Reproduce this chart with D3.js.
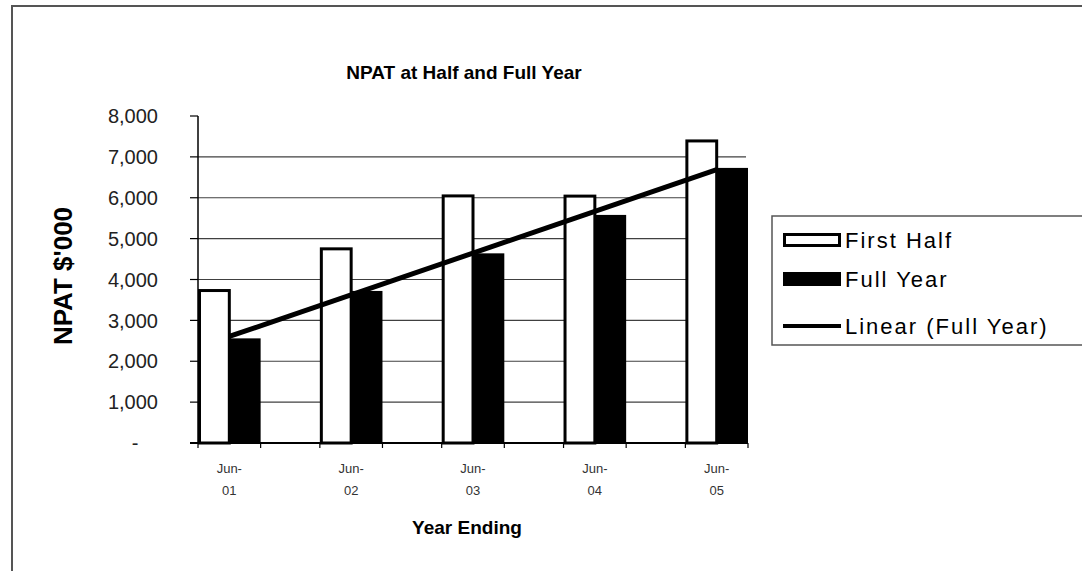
<!DOCTYPE html>
<html>
<head>
<meta charset="utf-8">
<script src="https://cdn.jsdelivr.net/npm/d3@7"></script>
<style>
  html, body { margin: 0; padding: 0; background: #fff; }
  svg { display: block; font-family: "Liberation Sans", Arial, sans-serif; }
</style>
</head>
<body>
<div id="app"></div>
<script>
// Chart values
const categories = ["Jun-01", "Jun-02", "Jun-03", "Jun-04", "Jun-05"];
const firstHalf = [3730, 4750, 6045, 6040, 7390];
const fullYear = [2560, 3720, 4640, 5580, 6730];
const seriesNames = ["First Half", "Full Year", "Linear (Full Year)"];
const yTicks = [0, 1000, 2000, 3000, 4000, 5000, 6000, 7000, 8000];

const width = 1082, height = 571;
const plot = { left: 198, right: 748, top: 116, bottom: 443 };

const svg = d3.select("#app").append("svg")
  .attr("width", width)
  .attr("height", height);

// chart area border (runs off the right and bottom)
svg.append("path")
  .attr("d", `M12,${height + 5}V6H${width + 5}`)
  .attr("fill", "none")
  .attr("stroke", "#555")
  .attr("stroke-width", 2);

const x0 = d3.scaleBand()
  .domain(categories)
  .range([plot.left, plot.right])
  .paddingInner(0.486)
  .paddingOuter(0);

const x1 = d3.scaleBand()
  .domain(["First Half", "Full Year"])
  .range([0, x0.bandwidth()]);

const y = d3.scaleLinear().domain([0, 8000]).range([plot.bottom, plot.top]);

const fmt = d3.format(",");

// gridlines (none at the top value)
svg.append("g")
  .selectAll("line")
  .data(yTicks.filter(t => t > 0 && t < 8000))
  .join("line")
    .attr("x1", plot.left).attr("x2", plot.right - 2)
    .attr("y1", d => y(d)).attr("y2", d => y(d))
    .attr("stroke", "#404040")
    .attr("stroke-width", 1.2);

// y axis
const yAxis = svg.append("g");
yAxis.append("line")
  .attr("x1", plot.left).attr("x2", plot.left)
  .attr("y1", y(8000)).attr("y2", y(0))
  .attr("stroke", "#000").attr("stroke-width", 1.5);
yAxis.selectAll("line.tick")
  .data(yTicks)
  .join("line")
    .attr("class", "tick")
    .attr("x1", plot.left - 8).attr("x2", plot.left)
    .attr("y1", d => y(d)).attr("y2", d => y(d))
    .attr("stroke", "#000").attr("stroke-width", 1.2);
yAxis.selectAll("text")
  .data(yTicks)
  .join("text")
    .attr("x", d => d === 0 ? 135 : 158)
    .attr("y", d => y(d))
    .attr("dy", "0.36em")
    .attr("text-anchor", d => d === 0 ? "middle" : "end")
    .attr("font-size", 20)
    .attr("fill", "#222")
    .text(d => d === 0 ? "-" : fmt(d));

// bars
const groups = svg.append("g")
  .selectAll("g")
  .data(categories)
  .join("g")
    .attr("transform", d => `translate(${x0(d)},0)`);

groups.append("rect")
  .attr("x", x1("First Half") + 1.5)
  .attr("width", x1.bandwidth() - 1.5)
  .attr("y", (d, i) => y(firstHalf[i]))
  .attr("height", (d, i) => y(0) - y(firstHalf[i]))
  .attr("fill", "#fff")
  .attr("stroke", "#000")
  .attr("stroke-width", 3);

groups.append("rect")
  .attr("x", x1("Full Year"))
  .attr("width", x1.bandwidth())
  .attr("y", (d, i) => y(fullYear[i]))
  .attr("height", (d, i) => y(0) - y(fullYear[i]))
  .attr("fill", "#000");

// x axis
const xAxis = svg.append("g");
xAxis.append("line")
  .attr("x1", plot.left - 8).attr("x2", plot.right)
  .attr("y1", plot.bottom).attr("y2", plot.bottom)
  .attr("stroke", "#000").attr("stroke-width", 2);
const edges = categories.flatMap(c => [x0(c), x0(c) + x0.bandwidth()]);
xAxis.selectAll("line.tick")
  .data(edges)
  .join("line")
    .attr("class", "tick")
    .attr("x1", d => d).attr("x2", d => d)
    .attr("y1", plot.bottom).attr("y2", plot.bottom + 5)
    .attr("stroke", "#000").attr("stroke-width", 1.2);
const xLabels = xAxis.selectAll("text")
  .data(categories)
  .join("text")
    .attr("x", d => x0(d) + x0.bandwidth() / 2)
    .attr("text-anchor", "middle")
    .attr("font-size", 13)
    .attr("fill", "#333");
xLabels.append("tspan")
  .attr("x", d => x0(d) + x0.bandwidth() / 2)
  .attr("y", 473)
  .text(d => d.split("-")[0] + "-");
xLabels.append("tspan")
  .attr("x", d => x0(d) + x0.bandwidth() / 2)
  .attr("y", 495)
  .text(d => d.split("-")[1]);

// linear trend of the full year series (least squares)
const xs = fullYear.map((v, i) => i);
const mx = d3.mean(xs), my = d3.mean(fullYear);
const slope = d3.sum(xs, (v, i) => (v - mx) * (fullYear[i] - my)) / d3.sum(xs, v => (v - mx) ** 2);
const icpt = my - slope * mx;
const trend = categories.map((c, i) => ({ x: x0(c) + x0.bandwidth() / 2, v: icpt + slope * i }));
svg.append("path")
  .datum([trend[0], trend[trend.length - 1]])
  .attr("d", d3.line().x(d => d.x).y(d => y(d.v)))
  .attr("fill", "none")
  .attr("stroke", "#000")
  .attr("stroke-width", 5);

// titles
svg.append("text")
  .attr("x", 464).attr("y", 79)
  .attr("text-anchor", "middle")
  .attr("font-size", 19).attr("font-weight", "bold")
  .text("NPAT at Half and Full Year");

svg.append("text")
  .attr("x", 467).attr("y", 534)
  .attr("text-anchor", "middle")
  .attr("font-size", 19).attr("font-weight", "bold")
  .text("Year Ending");

svg.append("text")
  .attr("transform", "translate(72,276) rotate(-90)")
  .attr("text-anchor", "middle")
  .attr("font-size", 26).attr("font-weight", "bold")
  .text("NPAT $'000");

// legend
const legend = svg.append("g").attr("transform", "translate(772,216)");
legend.append("path")
  .attr("d", `M${width - 772 + 5},0H0V129H${width - 772 + 5}`)
  .attr("fill", "none")
  .attr("stroke", "#555")
  .attr("stroke-width", 1.5);

const rows = legend.selectAll("g")
  .data(seriesNames)
  .join("g")
    .attr("transform", (d, i) => `translate(11,${24 + i * 39})`);

rows.filter((d, i) => i === 0).append("rect")
  .attr("x", 1.5).attr("y", -5.5).attr("width", 55).attr("height", 11)
  .attr("fill", "#fff").attr("stroke", "#000").attr("stroke-width", 3);
rows.filter((d, i) => i === 1).append("rect")
  .attr("x", 0).attr("y", -7).attr("width", 58).attr("height", 14)
  .attr("fill", "#000");
rows.filter((d, i) => i === 2).append("line")
  .attr("x1", 0).attr("x2", 58).attr("y1", 8).attr("y2", 8)
  .attr("stroke", "#000").attr("stroke-width", 4);

rows.append("text")
  .attr("x", 62)
  .attr("y", (d, i) => i === 2 ? 8 : 0)
  .attr("dy", "0.36em")
  .attr("font-size", 22)
  .attr("letter-spacing", 2)
  .attr("fill", "#000")
  .text(d => d);
</script>
</body>
</html>
